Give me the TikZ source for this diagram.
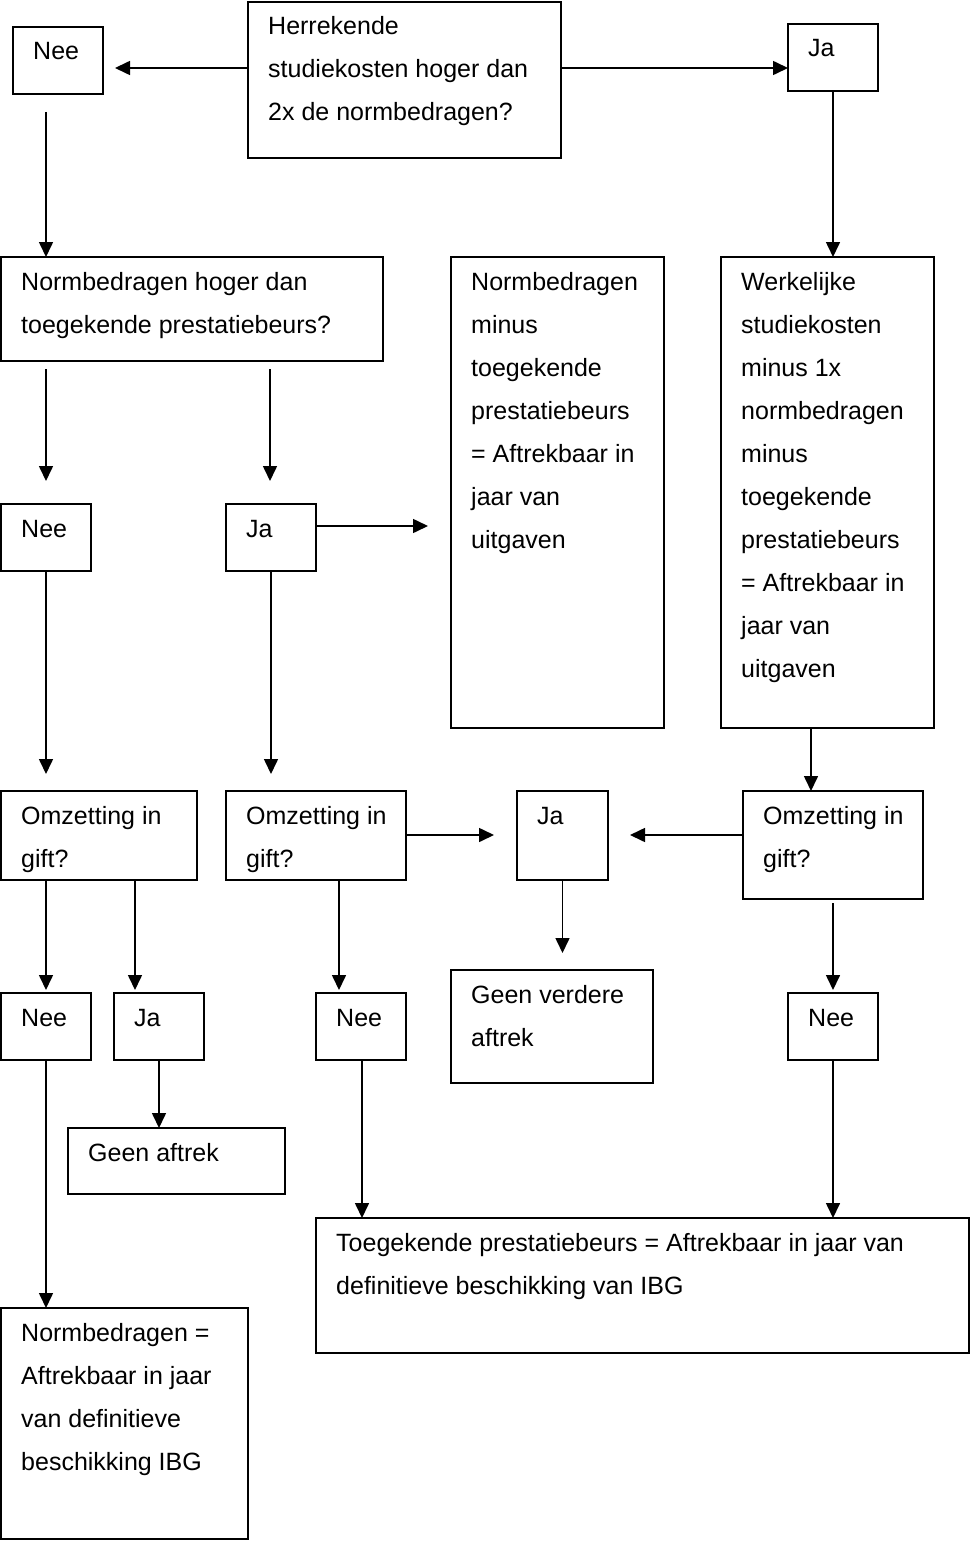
\documentclass[tikz,border=0pt]{standalone}
\usepackage{fontspec}
\setmainfont{Liberation Sans}
\usetikzlibrary{arrows.meta,calc}
\tikzset{
 box/.style={draw, line width=1.6pt, inner sep=0pt, outer sep=0pt, anchor=north west},
 txt/.style={anchor=base west, inner sep=0pt, font=\fontsize{25}{43}\selectfont},
 arr/.style={line width=1.6pt, -{Triangle[length=15pt,width=14pt]}},
}
\newcommand\mkbox[6]{%
 \node[box, minimum width=#4-#2, minimum height=#5-#3] (#1) at (#2,-#3) {};
 \node[txt] (#1t) at ($(#1.north west)+(20,-33)$) {\parbox[t]{680pt}{#6}};
}
\begin{document}
\begin{tikzpicture}[x=1pt,y=1pt]
\useasboundingbox (0,0) rectangle (970,-1541);
\mkbox{top}{248}{2}{561}{158}{Herrekende\\studiekosten hoger dan\\2x de normbedragen?}
\mkbox{neeA}{13}{27}{103}{94}{Nee}
\mkbox{jaA}{788}{24}{878}{91}{Ja}
\mkbox{q2}{1}{257}{383}{361}{Normbedragen hoger dan\\toegekende prestatiebeurs?}
\mkbox{mid}{451}{257}{664}{728}{Normbedragen\\minus\\toegekende\\prestatiebeurs\\= Aftrekbaar in\\jaar van\\uitgaven}
\mkbox{right}{721}{257}{934}{728}{Werkelijke\\studiekosten\\minus 1x\\normbedragen\\minus\\toegekende\\prestatiebeurs\\= Aftrekbaar in\\jaar van\\uitgaven}
\mkbox{neeB}{1}{504}{91}{571}{Nee}
\mkbox{jaB}{226}{504}{316}{571}{Ja}
\mkbox{om1}{1}{791}{197}{880}{Omzetting in\\gift?}
\mkbox{om2}{226}{791}{406}{880}{Omzetting in\\gift?}
\mkbox{jaC}{517}{791}{608}{880}{Ja}
\mkbox{om3}{743}{791}{923}{899}{Omzetting in\\gift?}
\mkbox{geenv}{451}{970}{653}{1083}{Geen verdere\\aftrek}
\mkbox{neeC}{1}{993}{91}{1060}{Nee}
\mkbox{jaD}{114}{993}{204}{1060}{Ja}
\mkbox{neeD}{316}{993}{406}{1060}{Nee}
\mkbox{neeE}{788}{993}{878}{1060}{Nee}
\mkbox{geen}{68}{1128}{285}{1194}{Geen aftrek}
\mkbox{norm}{1}{1308}{248}{1539}{Normbedragen =\\Aftrekbaar in jaar\\van definitieve\\beschikking IBG}
\mkbox{toeg}{316}{1218}{969}{1353}{Toegekende prestatiebeurs = Aftrekbaar in jaar van\\definitieve beschikking van IBG}
% connectors
\draw[arr] ($(top.north west)+(0,-66)$) -- ($(neeA.north east)+(12,-41)$);
\draw[arr] ($(top.north east)+(0,-66)$) -- ($(jaA.north west)+(0,-44)$);
\draw[arr] ($(neeA.south)+(-12,-18)$) -- ($(q2.north west)+(45,0)$);
\draw[arr] (jaA.south) -- ($(right.north west)+(112,0)$);
\draw[arr] ($(q2.south west)+(45,-8)$) -- ($(neeB.north)+(0,23)$);
\draw[arr] ($(q2.south west)+(269,-8)$) -- ($(jaB.north west)+(44,23)$);
\draw[arr] ($(jaB.north east)+(0,-22)$) -- ($(mid.north west)+(-23,-269)$);
\draw[arr] (neeB.south) -- ($(om1.north west)+(45,17)$);
\draw[arr] (jaB.south) -- ($(om2.north west)+(45,17)$);
\draw[arr] ($(om2.north east)+(0,-44)$) -- ($(jaC.north west)+(-23,-44)$);
\draw[arr] ($(om3.north west)+(0,-44)$) -- ($(jaC.north east)+(22,-44)$);
\draw[arr] ($(right.south west)+(90,0)$) -- ($(om3.north west)+(68,0)$);
\draw[arr] (jaC.south) -- ($(geenv.north west)+(111.5,17)$);
\draw[arr] ($(om1.south west)+(45,0)$) -- ($(neeC.north)+(0,3)$);
\draw[arr] ($(om1.south west)+(134,0)$) -- ($(jaD.north west)+(21,3)$);
\draw[arr] ($(om2.south west)+(113,0)$) -- ($(neeD.north west)+(23,3)$);
\draw[arr] ($(om3.south)+(0,-4)$) -- ($(neeE.north)+(0,3)$);
\draw[arr] (jaD.south) -- ($(geen.north west)+(91,0)$);
\draw[arr] (neeC.south) -- ($(norm.north west)+(45,0)$);
\draw[arr] ($(neeD.south west)+(46,0)$) -- ($(toeg.north west)+(46,0)$);
\draw[arr] (neeE.south) -- ($(toeg.north west)+(517,0)$);
\end{tikzpicture}
\end{document}
